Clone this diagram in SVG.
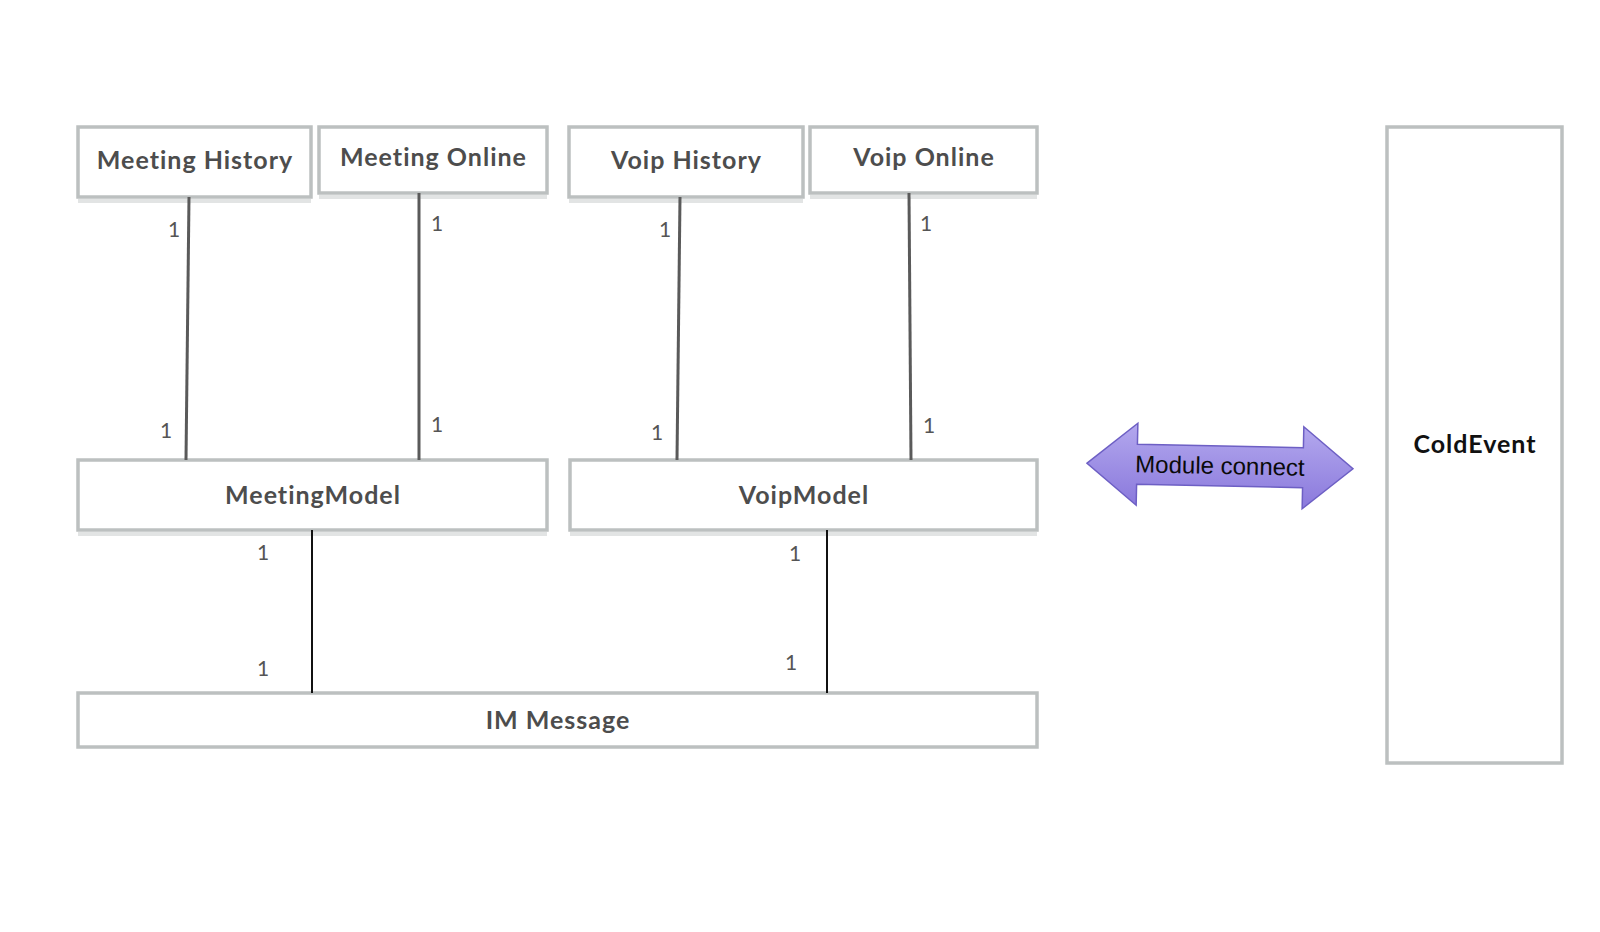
<svg xmlns="http://www.w3.org/2000/svg" width="1600" height="932" viewBox="0 0 1600 932">
<defs>
<linearGradient id="arrowGrad" x1="0" y1="0" x2="0" y2="1">
<stop offset="0" stop-color="#b3a8ee"/>
<stop offset="1" stop-color="#8a79dc"/>
</linearGradient>
<style>
.box{fill:#ffffff;stroke:#bcc0c0;stroke-width:3.5}
.shadow{stroke:#e2e4e4;stroke-width:4}
.lbl{font-family:Lato,"Liberation Sans",sans-serif;font-weight:700;font-size:25px;letter-spacing:1px;fill:#4d4d4d;text-anchor:middle}
.card{font-family:Lato,"Liberation Sans",sans-serif;font-size:21px;fill:#555555;text-anchor:middle}
.conn{stroke:#5a5a5a;stroke-width:3;fill:none}
.conn2{stroke:#111111;stroke-width:2;fill:none}
</style>
</defs>
<rect width="1600" height="932" fill="#ffffff"/>

<g id="meeting-history">
<line class="shadow" x1="78" y1="201" x2="311" y2="201"/>
<rect class="box" x="78" y="127" width="233" height="70"/>
<text class="lbl" x="195" y="169">Meeting History</text>
</g>
<g id="meeting-online">
<line class="shadow" x1="319" y1="197" x2="547" y2="197"/>
<rect class="box" x="319" y="127" width="228" height="66"/>
<text class="lbl" x="433.5" y="166">Meeting Online</text>
</g>
<g id="voip-history">
<line class="shadow" x1="569" y1="201" x2="803" y2="201"/>
<rect class="box" x="569" y="127" width="234" height="70"/>
<text class="lbl" x="686.5" y="169">Voip History</text>
</g>
<g id="voip-online">
<line class="shadow" x1="810" y1="197" x2="1037" y2="197"/>
<rect class="box" x="810" y="127" width="227" height="66"/>
<text class="lbl" x="924" y="166">Voip Online</text>
</g>
<g id="meeting-model">
<line class="shadow" x1="78" y1="534" x2="547" y2="534"/>
<rect class="box" x="78" y="460" width="469" height="70"/>
<text class="lbl" x="313" y="504">MeetingModel</text>
</g>
<g id="voip-model">
<line class="shadow" x1="570" y1="534" x2="1037" y2="534"/>
<rect class="box" x="570" y="460" width="467" height="70"/>
<text class="lbl" x="804" y="504">VoipModel</text>
</g>
<g id="im-message">
<rect class="box" x="78" y="693" width="959" height="54"/>
<text class="lbl" x="558" y="729">IM Message</text>
</g>
<g id="cold-event">
<rect class="box" x="1387" y="127" width="175" height="636"/>
<text class="lbl" x="1475" y="453" style="fill:#111111">ColdEvent</text>
</g>

<g id="connectors">
<line class="conn" x1="189" y1="197" x2="186" y2="460"/>
<line class="conn" x1="419" y1="193" x2="419" y2="460"/>
<line class="conn" x1="680" y1="197" x2="677" y2="460"/>
<line class="conn" x1="909" y1="193" x2="911" y2="460"/>
<line class="conn2" x1="312" y1="530" x2="312" y2="693"/>
<line class="conn2" x1="827" y1="530" x2="827" y2="693"/>
<text class="card" x="174" y="237">1</text>
<text class="card" x="437" y="231">1</text>
<text class="card" x="166" y="438">1</text>
<text class="card" x="437" y="432">1</text>
<text class="card" x="665" y="237">1</text>
<text class="card" x="926" y="231">1</text>
<text class="card" x="657" y="440">1</text>
<text class="card" x="929" y="433">1</text>
<text class="card" x="263" y="560">1</text>
<text class="card" x="263" y="676">1</text>
<text class="card" x="795" y="561">1</text>
<text class="card" x="791" y="670">1</text>
</g>

<g id="module-connect" transform="rotate(1.2 1220 466)">
<polygon points="1087,466 1137,425 1137,446 1303,446 1303,425 1353,466 1303,507 1303,486 1137,486 1137,507" fill="url(#arrowGrad)" stroke="#6d5fc4" stroke-width="1.5" stroke-linejoin="miter"/>
<text x="1220" y="474" font-family="'Liberation Sans',Arial,sans-serif" font-size="24" fill="#0a0a0a" text-anchor="middle">Module connect</text>
</g>
</svg>
